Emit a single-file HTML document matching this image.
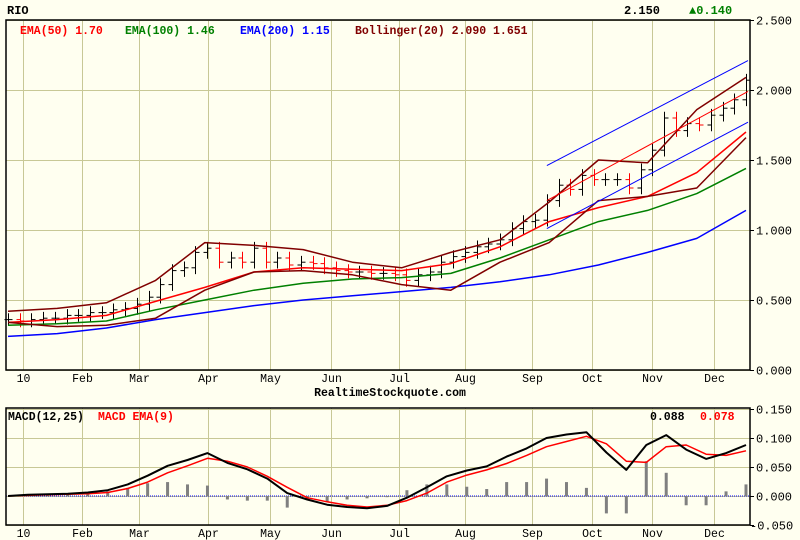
<!DOCTYPE html>
<html><head><meta charset="utf-8"><style>
body{margin:0;background:#fffff0;}
svg{display:block;font-family:"Liberation Mono",monospace;}
</style></head><body>
<svg id="c" width="800" height="540">
<rect width="800" height="540" fill="#fffff0"/>
<g id="grid"></g>
<g id="marks"></g>
<rect x="6" y="20" width="744" height="350" fill="none" stroke="#000" stroke-width="1.5"/>
<rect x="6" y="408" width="744" height="117" fill="none" stroke="#000" stroke-width="1.5"/>
<text x="7" y="14" font-size="12" font-weight="bold">RIO</text>
<text x="624" y="14" font-size="12" font-weight="bold">2.150</text>
<text x="689" y="14" font-size="12" font-weight="bold" fill="#008000">▲0.140</text>
<g font-size="11.5" font-weight="bold">
<text x="20" y="34" fill="#ff0000">EMA(50) 1.70</text>
<text x="125" y="34" fill="#008000">EMA(100) 1.46</text>
<text x="240" y="34" fill="#0000ff">EMA(200) 1.15</text>
<text x="355" y="34" fill="#800000">Bollinger(20) 2.090 1.651</text>
<text x="8" y="420" fill="#000">MACD(12,25)</text>
<text x="98" y="420" fill="#ff0000">MACD EMA(9)</text>
<text x="650" y="420" fill="#000">0.088</text>
<text x="700" y="420" fill="#ff0000">0.078</text>
</g>
<text x="390" y="396" font-size="11.5" font-weight="bold" text-anchor="middle">RealtimeStockquote.com</text>
</svg>
<script>
const closes=[0.36,0.35,0.36,0.37,0.37,0.39,0.39,0.41,0.41,0.43,0.44,0.47,0.52,0.61,0.71,0.73,0.84,0.87,0.77,0.80,0.77,0.87,0.77,0.80,0.75,0.77,0.76,0.73,0.71,0.70,0.70,0.69,0.69,0.68,0.64,0.68,0.70,0.77,0.81,0.84,0.88,0.90,0.93,1.01,1.06,1.07,1.21,1.32,1.29,1.39,1.36,1.36,1.36,1.30,1.43,1.57,1.80,1.71,1.76,1.75,1.82,1.87,1.93,2.07];
const ema50=[0.34,0.36,0.39,0.49,0.59,0.70,0.73,0.72,0.71,0.76,0.88,1.06,1.16,1.24,1.41,1.70];
const ema100=[0.32,0.33,0.35,0.43,0.50,0.57,0.62,0.65,0.66,0.69,0.80,0.93,1.06,1.14,1.26,1.44];
const ema200=[0.24,0.26,0.30,0.36,0.41,0.46,0.50,0.53,0.56,0.59,0.63,0.68,0.75,0.84,0.94,1.14];
const bbUpper=[0.42,0.44,0.48,0.64,0.91,0.89,0.86,0.77,0.73,0.84,0.93,1.20,1.50,1.48,1.86,2.09];
const bbLower=[0.34,0.31,0.32,0.37,0.57,0.70,0.71,0.68,0.61,0.57,0.77,0.91,1.21,1.24,1.30,1.66];
const channelStartIdx=46;
const channelUpper=[1.46,2.21];
const channelMid=[1.21,1.99];
const channelLower=[1.01,1.77];
const macd=[0,0.002,0.003,0.004,0.006,0.01,0.02,0.035,0.052,0.062,0.074,0.057,0.046,0.03,0.005,-0.006,-0.015,-0.019,-0.021,-0.017,-0.003,0.015,0.034,0.044,0.051,0.068,0.082,0.1,0.106,0.11,0.075,0.045,0.088,0.105,0.08,0.064,0.074,0.088];
const signal=[0,0.001,0.002,0.003,0.004,0.006,0.013,0.024,0.04,0.052,0.065,0.06,0.05,0.034,0.015,-0.003,-0.01,-0.016,-0.019,-0.016,-0.008,0.005,0.024,0.036,0.045,0.056,0.07,0.085,0.094,0.103,0.09,0.06,0.058,0.085,0.088,0.072,0.07,0.078];
const months=["10","Feb","Mar","Apr","May","Jun","Jul","Aug","Sep","Oct","Nov","Dec"];
const monthFrac=[0.02,0.1,0.178,0.271,0.355,0.437,0.53,0.619,0.71,0.791,0.872,0.957];
const priceTicks=[0,0.5,1,1.5,2,2.5];
const macdTicks=[-0.05,0,0.05,0.1,0.15];

const NS="http://www.w3.org/2000/svg";
const X0=8,X1=746;
const yP=v=>370-140*v;
const yM=v=>496-580*v;
const xF=f=>X0+f*(X1-X0);
const xi=(i,n)=>X0+i*(X1-X0)/(n-1);
const grid=document.getElementById('grid'),marks=document.getElementById('marks');
function mk(tag,attrs,parent){const e=document.createElementNS(NS,tag);for(const k in attrs)e.setAttribute(k,attrs[k]);parent.appendChild(e);return e;}

monthFrac.forEach((f,i)=>{
  const x=Math.round(xF(f))+0.5;
  const g1=mk('line',{x1:x,x2:x,y1:20,y2:370,stroke:'#c8c896'},grid);
  
  
  const g2=mk('line',{x1:x,x2:x,y1:408,y2:525,stroke:'#c8c896'},grid);
  
  
  const t=mk('text',{x:x,y:382,'font-size':'11.5','text-anchor':'middle'},grid);t.textContent=months[i];
  
  
  const t2=mk('text',{x:x,y:537,'font-size':'11.5','text-anchor':'middle'},grid);t2.textContent=months[i];
  
  
});
priceTicks.forEach(v=>{
  const y=Math.round(yP(v))+0.5;
  const l=mk('line',{x1:6,x2:750,y1:y,y2:y,stroke:'#c8c896'},grid);
  
  
  mk('line',{x1:750,x2:754,y1:y,y2:y,stroke:'#000'},grid);
  const t=mk('text',{x:756,y:y+4,'font-size':'12'},grid);t.textContent=v.toFixed(3);
  
  
});
macdTicks.forEach(v=>{
  const y=Math.round(yM(v))+0.5;
  const l=mk('line',{x1:6,x2:750,y1:y,y2:y,stroke:'#c8c896'},grid);
  
  
  mk('line',{x1:750,x2:754,y1:y,y2:y,stroke:'#000'},grid);
  const t=mk('text',{x:v<0?750:756,y:y+4,'font-size':'12'},grid);t.textContent=v.toFixed(3);
  
  
});

function line(arr,yf,color,w,name){
  const pts=arr.map((v,i)=>xi(i,arr.length).toFixed(1)+','+yf(v).toFixed(1)).join(' ');
  const p=mk('polyline',{points:pts,fill:'none',stroke:color,'stroke-width':w,'stroke-linejoin':'round'},marks);
  
  
}
closes.forEach((c,i)=>{
  const x=Math.round(xi(i,closes.length))+0.5;
  const o=i?closes[i-1]:c;
  const col=c<o?'#ff0000':'#000';
  const hi=Math.max(o,c)+0.045,lo=Math.min(o,c)-0.045;
  const g=mk('g',{stroke:col,'stroke-width':1},marks);
  
  
  mk('line',{x1:x,x2:x,y1:yP(hi),y2:yP(lo)},g);
  mk('line',{x1:x-4,x2:x,y1:yP(o),y2:yP(o)},g);
  mk('line',{x1:x,x2:x+4,y1:yP(c),y2:yP(c)},g);
});
line(ema200,yP,'#0000ff',1.5,'ema200-line');
line(ema100,yP,'#008000',1.5,'ema100-line');
line(ema50,yP,'#ff0000',1.5,'ema50-line');
line(bbUpper,yP,'#800000',1.5,'bollinger-upper');
line(bbLower,yP,'#800000',1.5,'bollinger-lower');
[[channelUpper,'#0000ff','channel-upper'],[channelMid,'#ff0000','channel-middle'],[channelLower,'#0000ff','channel-lower']].forEach(([a,c,n])=>{
  const l=mk('line',{x1:xi(channelStartIdx,closes.length),x2:xi(closes.length-1,closes.length)+2,y1:yP(a[0]),y2:yP(a[1]),stroke:c,'stroke-width':1},marks);
  
  
});
const z=mk('line',{x1:6,x2:750,y1:yM(0),y2:yM(0),stroke:'#0000ff','stroke-dasharray':'1,1'},marks);


macd.forEach((m,i)=>{
  const h=(m-signal[i])*2;
  const x=xi(i,macd.length);
  const r=mk('rect',{x:x-1.5,y:Math.min(yM(h),yM(0)),width:3,height:Math.abs(yM(h)-yM(0)),fill:'#808080'},marks);
  
  
});
line(signal,yM,'#ff0000',1.5,'macd-signal-line');
line(macd,yM,'#000',2,'macd-line');
</script>
</body></html>
